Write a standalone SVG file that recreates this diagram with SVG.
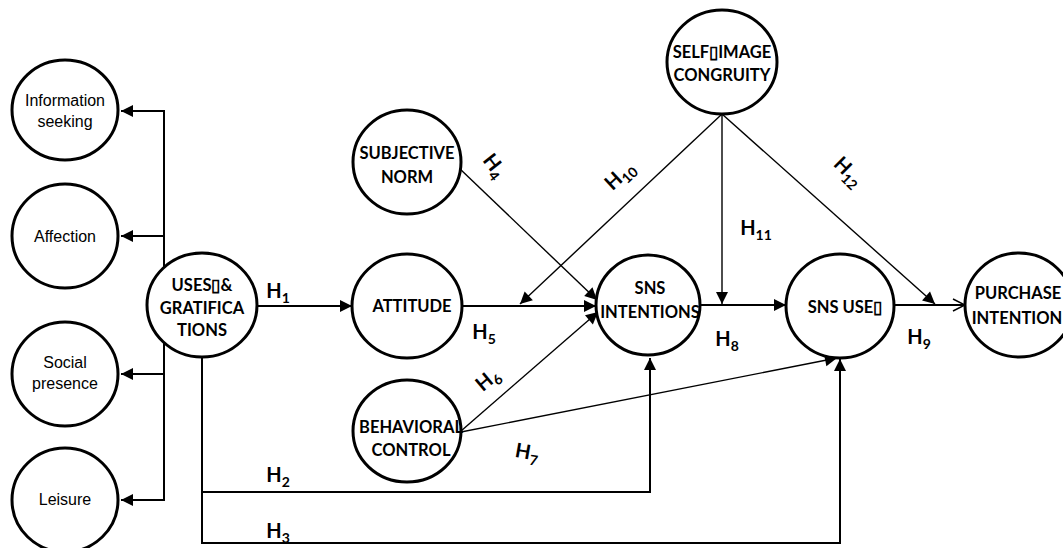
<svg xmlns="http://www.w3.org/2000/svg" width="1063" height="548" viewBox="0 0 1063 548">
<style>
.node{fill:#fff;stroke:#000;stroke-width:3}
.reg{font-family:"Liberation Sans",Arial,sans-serif;font-size:16px;text-anchor:middle;fill:#000}
.bold{font-family:Lato,"Liberation Sans",sans-serif;font-weight:bold;font-size:16.5px;text-anchor:middle;fill:#000}
.h{font-family:Lato,"Liberation Sans",sans-serif;font-weight:bold;font-size:20px;text-anchor:middle;fill:#000}
.sub{font-size:14px}
.c{fill:none;stroke:#000;stroke-width:2}
.t{fill:none;stroke:#000;stroke-width:1.4}
</style>
<defs>
<marker id="a" markerUnits="userSpaceOnUse" markerWidth="14" markerHeight="14" viewBox="0 0 14 14" refX="13" refY="7" orient="auto"><path d="M1,1 L13,7 L1,13 Z" fill="#000"/></marker>
<marker id="o" markerUnits="userSpaceOnUse" markerWidth="14" markerHeight="14" viewBox="0 0 14 14" refX="13" refY="7" orient="auto"><path d="M1,1 L13,7 L1,13" fill="none" stroke="#000" stroke-width="1.5"/></marker>
</defs>
<g id="connectors">
<path class="c" d="M164,267 V111 H121" marker-end="url(#a)"/>
<path class="c" d="M164,267 V236 H121" marker-end="url(#a)"/>
<path class="c" d="M164,343 V374 H121" marker-end="url(#a)"/>
<path class="c" d="M164,343 V500 H121" marker-end="url(#a)"/>
<path class="c" d="M257,306 H352" marker-end="url(#a)"/>
<path class="c" d="M202,357 V492 H650 V358" marker-end="url(#a)"/>
<path class="c" d="M202,492 V543 H840 V359" marker-end="url(#a)"/>
<path class="c" d="M461,306 H596" marker-end="url(#a)"/>
<path class="t" d="M459,168 L597,300" marker-end="url(#a)"/>
<path class="t" d="M461,431 L598,312" marker-end="url(#a)"/>
<path class="t" d="M461,432 L837,358" marker-end="url(#a)"/>
<path class="c" d="M700,305 H786" marker-end="url(#a)"/>
<path class="c" d="M894,305 H965" marker-end="url(#o)"/>
<path class="t" d="M722,114 L520,304" marker-end="url(#a)"/>
<path class="t" d="M722,114 V304" marker-end="url(#a)"/>
<path class="t" d="M722,114 L935,304" marker-end="url(#a)"/>
</g>
<g id="labels">
<text class="h" x="278" y="298">H<tspan class="sub" dy="5">1</tspan></text>
<text class="h" x="278" y="482">H<tspan class="sub" dy="5">2</tspan></text>
<text class="h" x="278" y="538">H<tspan class="sub" dy="5">3</tspan></text>
<text class="h" x="494" y="172" transform="rotate(52 494 166)">H<tspan class="sub" dy="5">4</tspan></text>
<text class="h" x="484" y="339">H<tspan class="sub" dy="5">5</tspan></text>
<text class="h" x="488" y="386" transform="rotate(-40 488 380)">H<tspan class="sub" dy="5">6</tspan></text>
<text class="h" x="527" y="459" transform="rotate(10 527 453)">H<tspan class="sub" dy="5">7</tspan></text>
<text class="h" x="727" y="346">H<tspan class="sub" dy="5">8</tspan></text>
<text class="h" x="919" y="344">H<tspan class="sub" dy="5">9</tspan></text>
<text class="h" x="620" y="182" transform="rotate(-43 620 176)">H<tspan class="sub" dy="5">10</tspan></text>
<text class="h" x="756" y="235">H<tspan class="sub" dy="5">11</tspan></text>
<text class="h" x="848" y="178" transform="rotate(45 848 172)">H<tspan class="sub" dy="5">12</tspan></text>
</g>
<g id="info"><ellipse class="node" cx="65" cy="110" rx="53" ry="50"/><text class="reg" x="65" y="106">Information</text><text class="reg" x="65" y="127">seeking</text></g>
<g id="affection"><ellipse class="node" cx="65" cy="236" rx="53" ry="52"/><text class="reg" x="65" y="242">Affection</text></g>
<g id="social"><ellipse class="node" cx="65" cy="374" rx="53" ry="52"/><text class="reg" x="65" y="368">Social</text><text class="reg" x="65" y="389">presence</text></g>
<g id="leisure"><ellipse class="node" cx="65" cy="500" rx="53" ry="52"/><text class="reg" x="65" y="505">Leisure</text></g>
<g id="uses"><ellipse class="node" cx="202" cy="305" rx="55" ry="52"/><text class="bold" x="202" y="291">USES▯&amp;</text><text class="bold" x="202" y="314">GRATIFICA</text><text class="bold" x="202" y="336">TIONS</text></g>
<g id="norm"><ellipse class="node" cx="407" cy="162" rx="54" ry="52"/><text class="bold" x="407" y="159">SUBJECTIVE</text><text class="bold" x="407" y="183">NORM</text></g>
<g id="attitude"><ellipse class="node" cx="407" cy="306" rx="55" ry="52"/><text class="bold" x="412" y="312">ATTITUDE</text></g>
<g id="behavioral"><ellipse class="node" cx="407" cy="431" rx="54" ry="51"/><text class="bold" x="411" y="433">BEHAVIORAL</text><text class="bold" x="411" y="456">CONTROL</text></g>
<g id="intentions"><ellipse class="node" cx="648" cy="305" rx="52" ry="50"/><text class="bold" x="650" y="294">SNS</text><text class="bold" x="650" y="318">INTENTIONS</text></g>
<g id="snsuse"><ellipse class="node" cx="840" cy="306" rx="54" ry="52"/><text class="bold" x="845" y="313">SNS USE▯</text></g>
<g id="purchase"><ellipse class="node" cx="1019" cy="305" rx="54" ry="52"/><text class="bold" x="1018" y="299">PURCHASE</text><text class="bold" x="1017" y="324">INTENTION</text></g>
<g id="selfimage"><ellipse class="node" cx="722" cy="62" rx="55" ry="52"/><text class="bold" x="722" y="58">SELF▯IMAGE</text><text class="bold" x="722" y="81">CONGRUITY</text></g>
</svg>
